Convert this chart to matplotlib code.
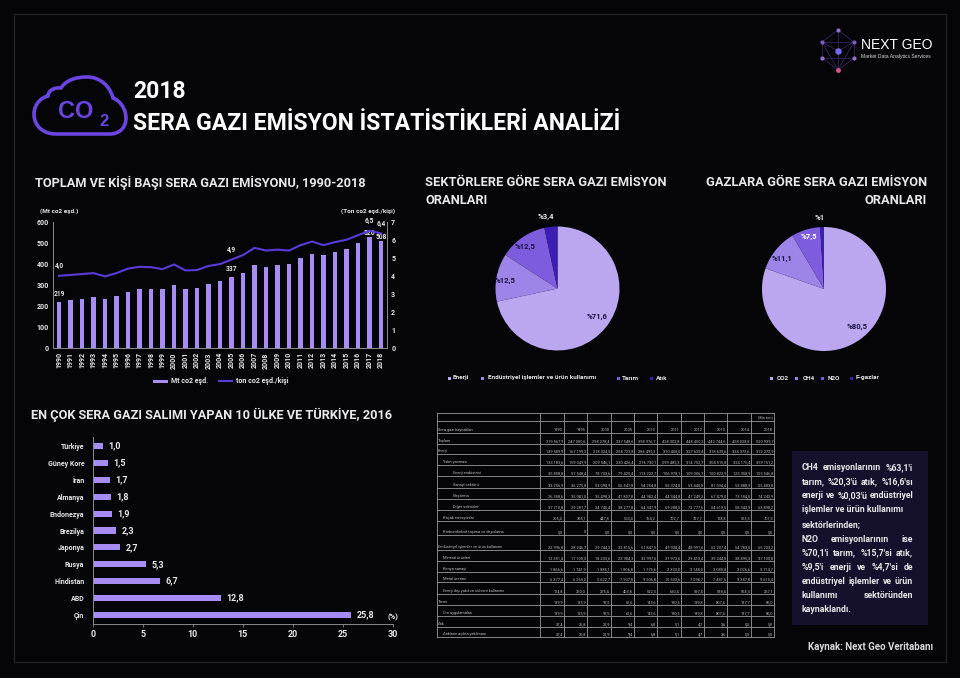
import matplotlib
matplotlib.use("Agg")
import matplotlib.pyplot as plt
from matplotlib.patches import PathPatch, Rectangle
from matplotlib.path import Path

W, H = 960, 678
BG = "#050507"
LAV = "#A78CF6"
LINE = "#5A3AD8"
CLOUD = "#6A45E2"
TXT = "#E8E8E8"
FONT = ["Roboto", "DejaVu Sans"]
plt.rcParams["font.family"] = FONT
plt.rcParams["font.weight"] = "bold"

# toplam emisyon
years = list(range(1990, 2019))
mt_co2 = [219, 226, 232, 240, 235, 247, 267, 280, 282, 280, 298, 282, 286, 306, 316, 337,
          358, 392, 386, 394, 399, 428, 448, 442, 458, 472, 498, 526, 508]
ton_kisi = [4.0, 4.05, 4.1, 4.15, 3.97, 4.15, 4.4, 4.5, 4.48, 4.37, 4.63, 4.3, 4.32, 4.55,
            4.65, 4.9, 5.15, 5.55, 5.4, 5.45, 5.4, 5.7, 5.9, 5.7, 5.87, 6.0, 6.25, 6.5, 6.35]
bar_labels = {1990: "219", 2005: "337", 2017: "526", 2018: "508"}
line_labels = {1990: "4,0", 2005: "4,9", 2017: "6,5", 2018: "6,4"}

# pastalar
sektor_names = ["Enerji", "Endüstriyel işlemler ve ürün kullanımı", "Tarım", "Atık"]
sektor_vals = [71.6, 12.5, 12.5, 3.4]
gaz_names = ["CO2", "CH4", "N2O", "F-gazlar"]
gaz_vals = [80.5, 11.1, 7.5, 1.0]
pie_colors = ["#BBA7F0", "#9C84E8", "#7D5DDE", "#3C1FB2"]

# ulkeler
ulkeler = ["Çin", "ABD", "Hindistan", "Rusya", "Japonya", "Brezilya", "Endonezya",
           "Almanya", "İran", "Güney Kore", "Türkiye"]
ulke_vals = [25.8, 12.8, 6.7, 5.3, 2.7, 2.3, 1.9, 1.8, 1.7, 1.5, 1.0]

# tablo
tablo_yillar = ["1990", "1995", "2000", "2005", "2010", "2011", "2012", "2013", "2014", "2018"]
tablo_satirlar = [
    ("Toplam", 0, ["219 567,9", "247 000,6", "298 278,4", "337 548,6", "398 976,7", "428 302,8", "448 450,2", "442 744,6", "458 028,8", "520 939,7"]),
    ("Enerji", 0, ["139 589,9", "167 199,2", "218 324,5", "258 723,8", "286 495,2", "310 406,0", "327 629,4", "318 639,6", "334 375,6", "372 272,9"]),
    ("Yakıt yanması", 1, ["133 183,6", "159 049,9", "209 546,1", "230 426,4", "276 730,1", "299 485,3", "314 752,7", "304 515,8", "324 175,4", "359 151,2"]),
    ("Enerji endüstrisi", 2, ["35 858,8", "57 548,4", "78 733,6", "79 425,4", "113 222,7", "106 978,1", "109 006,7", "100 823,9", "125 358,9", "155 546,8"]),
    ("Sanayi sektörü", 2, ["33 256,9", "36 275,8", "53 098,9", "56 547,8", "54 254,8", "55 374,8", "53 440,8", "81 594,4", "53 888,9", "55 483,8"]),
    ("Ulaştırma", 2, ["26 358,6", "35 981,0", "35 498,3", "41 807,8", "44 982,4", "44 344,8", "47 249,3", "67 479,0", "73 184,5", "74 243,9"]),
    ("Diğer sektörler", 2, ["37 710,8", "29 281,7", "34 745,4", "38 277,8", "64 347,9", "69 288,5", "72 777,6", "54 619,5", "58 343,9", "63 898,2"]),
    ("Kaçak emisyonlar", 1, ["205,4", "355,1", "447,8", "503,4", "764,2", "702,7", "727,7", "128,8", "515,5", "701,3"]),
    ("Karbondioksit taşıma ve depolama", 1, ["0,0", "0", "0,0", "0,0", "0,0", "0,0", "0,0", "0,0", "0,0", "0,0"]),
    ("Endüstriyel işlemler ve ürün kullanımı", 0, ["22 996,8", "28 246,7", "29 744,2", "32 815,6", "51 847,5", "49 938,4", "48 991,6", "52 207,4", "54 783,0", "65 233,2"]),
    ("Mineral ürünleri", 1, ["12 351,4", "17 100,3", "18 233,6", "23 984,3", "32 997,6", "31 973,6", "29 413,4", "39 244,8", "38 895,3", "37 100,8"]),
    ("Kimya sanayi", 1, ["1 866,6", "1 741,9", "1 885,1", "1 806,8", "1 775,6", "2 333,0", "3 148,0", "3 080,4", "3 026,6", "3 714,7"]),
    ("Metal üretimi", 1, ["6 377,4", "6 265,0", "5 622,7", "7 907,8", "9 506,8", "10 533,6", "7 096,7", "7 481,5", "9 387,8", "9 615,4"]),
    ("Enerji dışı yakıt ve solvent kullanımı", 1, ["114,8", "250,0", "275,4", "403,8", "522,3", "630,4", "597,4", "538,4", "555,3", "257,1"]),
    ("Tarım", 0, ["189,9", "125,9", "97,5", "61,6", "143,6", "190,5", "139,8", "807,4", "197,7", "85,0"]),
    ("Üre uygulamaları", 1, ["189,9", "125,9", "97,5", "61,6", "143,6", "190,5", "139,8", "807,4", "197,7", "85,0"]),
    ("Atık", 0, ["37,4", "26,8", "22,9", "9,4", "6,8", "5,1", "4,7", "3,6", "5,5", "5,0"]),
    ("Atıkların açıkta yakılması", 1, ["37,4", "26,8", "22,9", "9,4", "6,8", "5,1", "4,7", "3,6", "5,5", "5,0"]),
]

kutu_satirlar = [
    ("CH4 emisyonlarının %63,1'i", True), ("tarım, %20,3'ü atık, %16,6'sı", True),
    ("enerji ve %0,03'ü endüstriyel", True), ("işlemler ve ürün kullanımı", False),
    ("sektörlerinden;", False), ("N2O emisyonlarının ise", True),
    ("%70,1'i tarım, %15,7'si atık,", True), ("%9,5'i enerji ve %4,7'si de", True),
    ("endüstriyel işlemler ve ürün", True), ("kullanımı sektöründen", True),
    ("kaynaklandı.", False),
]


def px_axes(x0, y0, x1, y1):
    # piksel koordinatindan axes (y asagi dogru)
    return fig.add_axes([x0 / W, 1 - y1 / H, (x1 - x0) / W, (y1 - y0) / H])


fig = plt.figure(figsize=(W / 100, H / 100), dpi=100, facecolor=BG)
ov = fig.add_axes([0, 0, 1, 1], zorder=5)
ov.set_xlim(0, W)
ov.set_ylim(H, 0)
ov.axis("off")
ov.patch.set_alpha(0)


def label(x, y, s, size=5.0, color=TXT, ha="left", va="center", **kw):
    return ov.text(x, y, s, fontsize=size, color=color, ha=ha, va=va, **kw)


# cerceve
ov.add_patch(Rectangle((14, 14), 932, 648, fill=False, ec="#232326", lw=1))

# bulut
verts = [(56, 134), (42, 134), (34, 125), (34, 114), (34, 104), (42, 97), (48, 96),
         (48, 91), (54, 87), (61, 88), (66, 80), (76, 77), (87, 77), (100, 77), (110, 86), (113, 98),
         (121, 101), (126, 110), (126, 118), (126, 128), (119, 134), (110, 134), (56, 134)]
codes = [Path.MOVETO] + [Path.CURVE4] * 21 + [Path.LINETO]
ov.add_patch(PathPatch(Path(verts, codes), fill=False, ec=CLOUD, lw=2.6))
label(58, 112, "CO", size=17, color=CLOUD, family=["Liberation Sans", "DejaVu Sans"])
label(99, 121, "2", size=12, color=CLOUD, family=["Liberation Sans", "DejaVu Sans"])

# basliklar
label(133, 92, "2018", size=16.6, color="white")
label(133, 124, "SERA GAZI EMİSYON İSTATİSTİKLERİ ANALİZİ", size=16.6, color="white")
label(35, 183, "TOPLAM VE KİŞİ BAŞI SERA GAZI EMİSYONU, 1990-2018", size=9.2)
label(425, 182, "SEKTÖRLERE GÖRE SERA GAZI EMİSYON", size=9.3)
label(425, 201, "ORANLARI", size=9.3)
label(927, 182, "GAZLARA GÖRE SERA GAZI EMİSYON", size=9.3, ha="right")
label(927, 201, "ORANLARI", size=9.3, ha="right")
label(31, 415, "EN ÇOK SERA GAZI SALIMI YAPAN 10 ÜLKE VE TÜRKİYE, 2016", size=9.2)

# logo
pts = {"t": (838, 30), "ul": (822, 42), "ur": (854, 42), "c": (838, 51),
       "ll": (822, 58), "lr": (854, 58), "b": (838, 70)}
for a, b in [("t", "ul"), ("t", "ur"), ("ul", "ll"), ("ur", "lr"), ("ll", "b"), ("lr", "b"),
             ("ul", "ur"), ("ll", "lr"), ("t", "b"), ("ul", "c"), ("ur", "c"), ("ul", "b"), ("ur", "b")]:
    ov.plot([pts[a][0], pts[b][0]], [pts[a][1], pts[b][1]], color="#3A2A6E", lw=0.5)
for k, c, s in [("t", "#8F6FD0", 9), ("ul", "#7A5CC0", 9), ("ur", "#7A5CC0", 9), ("c", "#6F6BF0", 22),
                ("ll", "#A070C8", 9), ("lr", "#A070C8", 9), ("b", "#E0508A", 12)]:
    ov.scatter(*pts[k], s=s, color=c, lw=0, zorder=6)
label(861, 45, "NEXT GEO", size=10, color="white", weight="normal",
      family=["Liberation Sans", "DejaVu Sans"])
label(861, 56.5, "Market Data Analytics Services", size=3.6, color="#DDDDDD", weight="normal",
      family=["Liberation Sans", "DejaVu Sans"])

# toplam emisyon grafigi
ax = px_axes(53, 221.7, 387, 348)
ax.set_facecolor(BG)
ax.bar(years, mt_co2, width=0.38, color=LAV)
ax.set_xlim(1990 - 0.52, 2018 + 0.52)
ax.set_ylim(0, 600)
ax.set_xticks(years)
ax.set_xticklabels(years, rotation=90)
ax.set_yticks(range(0, 601, 100))
ax2 = ax.twinx()
ax2.plot(years, ton_kisi, color=LINE, lw=1.5)
ax2.set_ylim(0, 7)
ax2.set_yticks(range(0, 8))
for a in (ax, ax2):
    a.tick_params(colors=TXT, labelsize=5, length=0, pad=3, width=0.6)
    for s in a.spines.values():
        s.set_color("#8A8A8A")
        s.set_linewidth(0.7)
    a.spines["top"].set_visible(False)
    a.patch.set_alpha(0)
ax.spines["right"].set_visible(False)
ax2.spines["left"].set_visible(False)
for y, s in bar_labels.items():
    ax.annotate(s, (y, mt_co2[years.index(y)]), xytext=(0, 3), textcoords="offset points",
                ha="center", va="bottom" if y < 2017 else "center", fontsize=4.8, color=TXT,
                zorder=8)
for y, s in line_labels.items():
    ax2.annotate(s, (y, ton_kisi[years.index(y)]), xytext=(0, 4), textcoords="offset points",
                 ha="center", va="bottom", fontsize=4.8, color=TXT)
label(40, 211, "(Mt co2 eşd.)", size=4.6)
label(395, 211, "(Ton co2 eşd./kişi)", size=4.6, ha="right")
ov.add_patch(Rectangle((153, 379.5), 15, 3, color=LAV, lw=0))
label(171, 381, "Mt co2 eşd.", size=5)
ov.plot([219, 232], [381, 381], color=LINE, lw=1.5)
label(236, 381, "ton co2 eşd./kişi", size=5)


# pastalar
def pie(cx, cy, r, vals):
    a = px_axes(cx - r, cy - r, cx + r, cy + r)
    a.pie(vals, colors=pie_colors, startangle=90, counterclock=False, radius=1.0,
          wedgeprops={"lw": 0})
    a.set_xlim(-1, 1)
    a.set_ylim(-1, 1)
    a.patch.set_alpha(0)


pie(557.5, 288.5, 62, sektor_vals)
pie(824, 289, 62, gaz_vals)
DARK = "#1C1240"
for x, y, s, c in [(597, 317, "%71,6", DARK), (505, 281, "%12,5", DARK), (525, 247, "%12,5", DARK),
                   (546, 217, "%3,4", TXT), (857, 326, "%80,5", DARK), (782, 259, "%11,1", DARK),
                   (809, 236, "%7,5", "white"), (820, 217, "%1", TXT)]:
    label(x, y, s, size=5.6, color=c, ha="center")
for xs, xt, name, col in zip([449, 482, 618, 651], [453, 488, 622, 656], sektor_names, pie_colors):
    ov.add_patch(Rectangle((xs - 1.5, 376.5), 3, 3, color=col, lw=0))
    label(xt, 378, name, size=4.6)
for xs, xt, name, col in zip([771, 796, 822, 851], [777, 803, 828, 856], gaz_names, pie_colors):
    ov.add_patch(Rectangle((xs - 1.5, 376.5), 3, 3, color=col, lw=0))
    label(xt, 378, name, size=4.6)

# ulke grafigi
bx = px_axes(92.7, 437, 392.7, 624)
bx.set_facecolor(BG)
ypos = list(range(len(ulkeler)))
bx.barh(ypos, ulke_vals, height=0.36, color=LAV)
bx.set_xlim(0, 30)
bx.set_ylim(-0.53, 10.53)
bx.set_yticks(ypos)
bx.set_yticklabels(ulkeler)
bx.set_xticks(range(0, 31, 5))
bx.tick_params(axis="y", colors=TXT, labelsize=5, length=0, pad=6)
bx.tick_params(axis="x", colors=TXT, labelsize=6.5, length=2, width=0.6, color="#8A8A8A", pad=2)
for s in ("top", "right"):
    bx.spines[s].set_visible(False)
for s in ("left", "bottom"):
    bx.spines[s].set_color("#8A8A8A")
    bx.spines[s].set_linewidth(0.7)
for p, v in zip(ypos, ulke_vals):
    bx.annotate(f"{v:.1f}".replace(".", ","), (v, p), xytext=(4, 0), textcoords="offset points",
                va="center", fontsize=6.5, color=TXT)
label(393, 617, "(%)", size=5.5, ha="center")

# tablo
tablo_x = [437, 540, 564, 587, 611, 634, 657, 681, 704, 727, 751, 774]
tablo_y = [413, 420.5, 433, 444, 454, 465, 476, 488, 499, 510, 521, 535, 550, 561, 572, 582,
           594, 605, 616, 627, 637]
for x in tablo_x:
    ov.plot([x, x], [tablo_y[0], tablo_y[-1]], color="#9A9A9A", lw=0.6)
for y in tablo_y:
    ov.plot([tablo_x[0], tablo_x[-1]], [y, y], color="#9A9A9A", lw=0.6)
TB = "#B8B8B8"
label(773, 417, "(Bin ton)", size=2.8, color=TB, ha="right", weight="normal")
label(438, tablo_y[2] - 3, "Sera gazı kaynakları", size=2.9, color=TB, weight="normal")
for x, yil in zip(tablo_x[2:], tablo_yillar):
    label(x - 1, tablo_y[2] - 3, yil, size=2.9, color=TB, ha="right", weight="normal")
for ly, (ad, ind, vals) in zip(tablo_y[3:], tablo_satirlar):
    label(438 + ind * 5 + (5 if ind == 2 else 0), ly - 3, ad, size=2.9, color=TB, weight="normal")
    for x, v in zip(tablo_x[2:], vals):
        label(x - 1, ly - 3, v, size=2.9, color=TB, ha="right", weight="normal")

# metin kutusu
ov.add_patch(Rectangle((792, 451), 136, 174, color="#15112C", lw=0))
kutu_y = [468, 482, 496, 509, 525, 539, 553, 567, 582, 596, 610]
rend = fig.canvas.get_renderer()
for y, (satir, yasla) in zip(kutu_y, kutu_satirlar):
    if not yasla:
        label(802, y, satir, size=6.3)
        continue
    # iki yana yasla: kelimeleri tek tek yerlestir
    words = [label(0, y, w, size=6.3) for w in satir.split()]
    widths = [t.get_window_extent(rend).width for t in words]
    gap = (913 - 802 - sum(widths)) / (len(words) - 1)
    x = 802
    for t, w in zip(words, widths):
        t.set_x(x)
        x += w + gap

label(933, 647, "Kaynak: Next Geo Veritabanı", size=7, color="#D8D8D8", ha="right")

fig.savefig("out.png", dpi=100, facecolor=BG)
